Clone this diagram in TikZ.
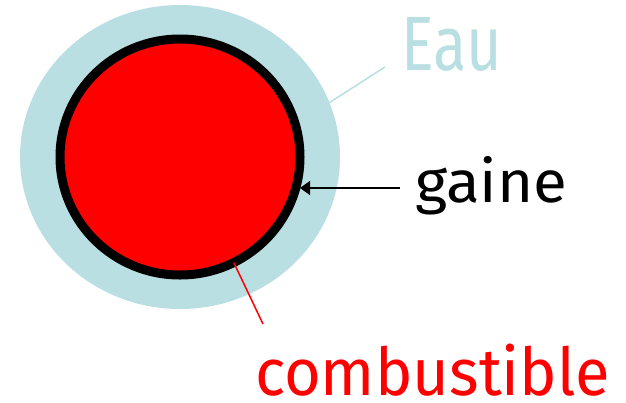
\documentclass[tikz,border=0pt]{standalone}
\usepackage{fontspec}
\setmainfont{Fira Sans}
\usetikzlibrary{shapes.geometric,arrows.meta}
\definecolor{eaucol}{RGB}{185,223,227}
\definecolor{fuelred}{RGB}{255,0,0}
\tikzset{
  label text/.style={inner sep=0pt, outer sep=0pt, anchor=base west},
  leader/.style={line width=1.5pt},
}
\begin{document}
\begin{tikzpicture}[x=1pt,y=1pt]
\useasboundingbox (0,0) rectangle (626,-402);
% water
\node[ellipse, fill=eaucol, minimum width=320, minimum height=304, inner sep=0pt, outer sep=0pt] (eau) at (180,-157) {};
% cladding + fuel
\node[ellipse, fill=fuelred, draw=black, line width=9pt, minimum width=240, minimum height=236, inner sep=0pt, outer sep=0pt] (ring) at (180,-157) {};
% labels
\node[label text, text=eaucol, font=\fontsize{77}{80}\selectfont] (teau) at (401,-70) {\resizebox{101pt}{\height}{Eau}};
\node[label text, text=black, font=\fontsize{59}{62}\selectfont] (tgaine) at (415,-202) {\resizebox{152pt}{\height}{gaine}};
\node[label text, text=fuelred, font=\fontsize{66}{70}\selectfont] (tcomb) at (255,-395) {\resizebox{355pt}{\height}{combustible}};
% connectors
\coordinate (eauend) at (385,-67);
\coordinate (gaineend) at (400,-188);
\coordinate (combend) at (263,-324);
\draw[leader, eaucol] (eau.20.9) -- (eauend);
\draw[leader, black, -{Triangle[length=10pt,width=14pt]}] (gaineend) -- (gaineend -| ring.east);
\draw[leader, fuelred] (ring.-63) -- (combend);
\end{tikzpicture}
\end{document}
